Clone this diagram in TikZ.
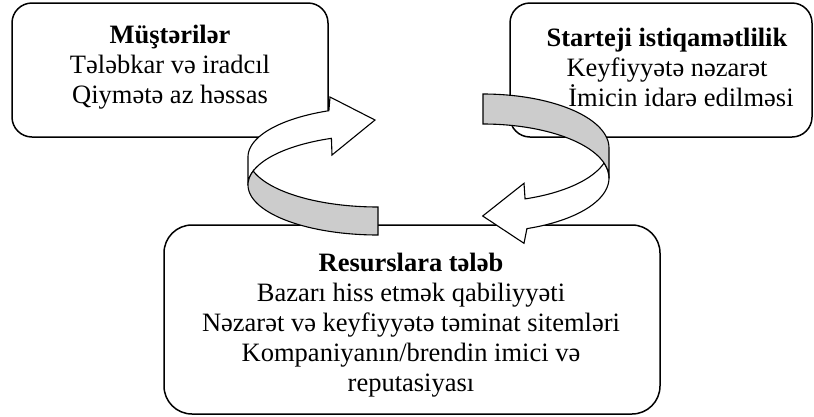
\documentclass[tikz,border=0pt]{standalone}
\usepackage{fontspec}
\setmainfont{Liberation Serif}
\usepackage{xcolor}
\definecolor{ribbonGray}{HTML}{CCCCCC}

\begin{document}
\begin{tikzpicture}[x=1pt, y=-1pt,
  panel/.style={draw, line width=1.5pt, inner sep=0pt},
  body/.style={align=center, inner sep=0pt, font=\fontsize{26.5}{30}\selectfont},
  ribbon/.style={draw, line width=1.1pt, line join=miter},
  front/.style={ribbon, fill=white},
  inside/.style={ribbon, fill=ribbonGray}
]
\useasboundingbox (0,0) rectangle (814,416);

% Three blocks
\node[panel, rounded corners=20pt, minimum width=316pt, minimum height=134pt] (clients) at (170,70) {};
\node[panel, rounded corners=20pt, minimum width=302pt, minimum height=134pt] (strategy) at (661,70) {};
\node[panel, rounded corners=28pt, minimum width=496pt, minimum height=189pt] (resources) at (412,319.5) {};

\node[body] (clientsText) at (170,67)
  {\textbf{Müştərilər}\\Tələbkar və iradcıl\\Qiymətə az həssas};
\node[body] (strategyText) at (667,67)
  {\textbf{Starteji istiqamətlilik}\\Keyfiyyətə nəzarət\\\hspace*{28pt}İmicin idarə edilməsi};
\node[body] (resourcesText) at (411,325)
  {\textbf{Resurslara tələb}\\Bazarı hiss etmək qabiliyyəti\\Nəzarət və keyfiyyətə təminat sitemləri\\Kompaniyanın/brendin imici və\\reputasiyası};

% Left loop, pointing right
\filldraw[front] plot[domain=247.8:180, samples=40] ({378+130*cos(\x)},{157+50*sin(\x)})
  -- plot[domain=180:249, samples=40] ({378+130*cos(\x)},{185+50*sin(\x)})
  -- (332,155) -- (375,120) -- (330,97) -- cycle;
\filldraw[inside] plot[domain=163.7:90, samples=40] ({378+130*cos(\x)},{157+50*sin(\x)})
  -- plot[domain=90:196.3, samples=40] ({378+130*cos(\x)},{185+50*sin(\x)}) -- cycle;

% Right loop, pointing left
\filldraw[front] plot[domain=70.5:16.1, samples=40] ({483+126*cos(\x)},{148+54*sin(\x)})
  -- plot[domain=-16.1:69.6, samples=40] ({483+126*cos(\x)},{178+54*sin(\x)})
  -- (524,243.3) -- (482.7,216) -- (524,183.3) -- cycle;
\filldraw[inside] plot[domain=343.9:270, samples=40] ({483+126*cos(\x)},{178+54*sin(\x)})
  -- plot[domain=270:360, samples=40] ({483+126*cos(\x)},{148+54*sin(\x)})
  -- plot[domain=360:343.9, samples=10] ({483+126*cos(\x)},{178+54*sin(\x)}) -- cycle;
\end{tikzpicture}
\end{document}
